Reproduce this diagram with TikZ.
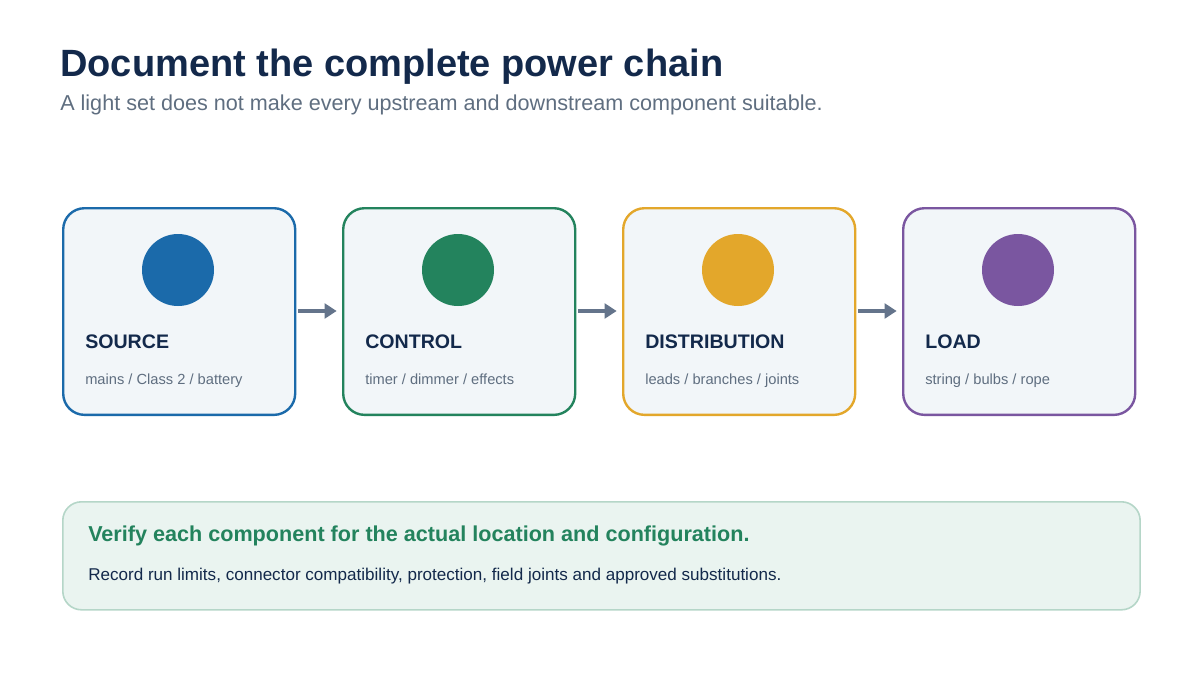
\documentclass[tikz,border=0pt]{standalone}
\usepackage{fontspec}
\setmainfont{Liberation Sans}
\usetikzlibrary{arrows.meta}
\definecolor{navy}{HTML}{13294B}
\definecolor{sub}{HTML}{5F6E80}
\definecolor{cA}{HTML}{1B6AAA}
\definecolor{cB}{HTML}{23835D}
\definecolor{cC}{HTML}{E3A72B}
\definecolor{cD}{HTML}{7A56A0}
\definecolor{boxbg}{HTML}{F2F6F9}
\definecolor{arr}{HTML}{64748B}
\definecolor{gbg}{HTML}{EAF4F0}
\definecolor{gline}{HTML}{B5D6C8}
\begin{document}
\begin{tikzpicture}[x=0.75pt,y=-0.75pt,
 every node/.style={inner sep=0},
 card/.style={draw=#1,line width=1.8pt,fill=boxbg,rounded corners=16pt,minimum width=174pt,minimum height=155pt,anchor=north west},
 dot/.style={circle,fill=#1,minimum size=54pt},
 head/.style={anchor=base west,text=navy,font=\fontsize{14.7}{18}\selectfont\bfseries},
 small/.style={anchor=base west,text=sub,font=\fontsize{11}{13}\selectfont},
 conn/.style={draw=arr,line width=2.4pt,-{Triangle[length=9pt,width=11pt]}}]
\useasboundingbox (0,0) rectangle (1200,675);
\node[anchor=base west,text=navy,font=\fontsize{28.5}{32}\selectfont\bfseries] (title) at (60,76) {Document the complete power chain};
\node[anchor=base west,text=sub,font=\fontsize{16.2}{19}\selectfont] (subt) at (60,110) {A light set does not make every upstream and downstream component suitable.};
\foreach \i/\x/\c/\h/\s in {1/62/cA/SOURCE/{mains / Class 2 / battery},2/342/cB/CONTROL/{timer / dimmer / effects},3/622/cC/DISTRIBUTION/{leads / branches / joints},4/902/cD/LOAD/{string / bulbs / rope}}{
 \node[card=\c] (card\i) at (\x,207) {};
 \node[dot=\c] (dot\i) at (\x+116,270) {};
 \node[head] (h\i) at (\x+23,348) {\h};
 \node[small] (s\i) at (\x+23,384) {\s};
}
\foreach \a/\b in {1/2,2/3,3/4}{
 \draw[conn] ([xshift=1.5pt]card\a.east|-0,311) coordinate (p\a) -- ([xshift=-4pt]card\b.west|-0,311) coordinate (q\a);
}
\node[draw=gline,line width=1.2pt,fill=gbg,rounded corners=14pt,minimum width=808pt,minimum height=81pt,anchor=north west] (note) at (62,501) {};
\node[anchor=base west,text=cB,font=\fontsize{16.2}{19}\selectfont\bfseries] (nh) at (88,541) {Verify each component for the actual location and configuration.};
\node[anchor=base west,text=navy,font=\fontsize{12.8}{15}\selectfont] (nb) at (88,580) {Record run limits, connector compatibility, protection, field joints and approved substitutions.};
\end{tikzpicture}
\end{document}
